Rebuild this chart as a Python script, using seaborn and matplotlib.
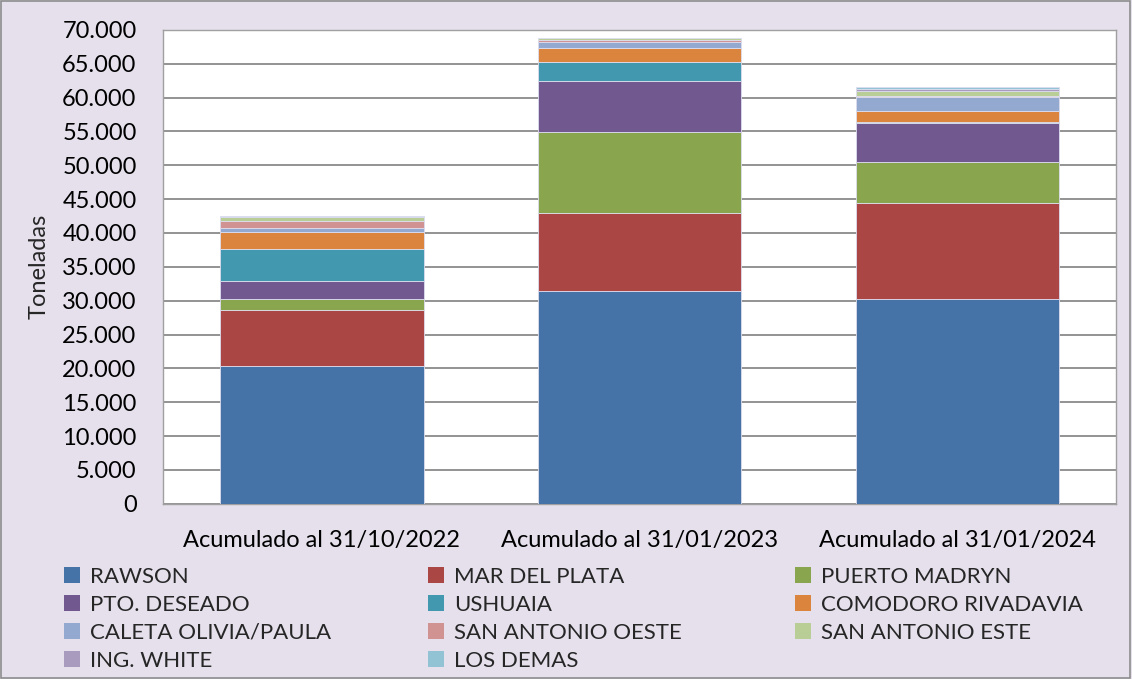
import numpy as np
import pandas as pd
import matplotlib
matplotlib.use("Agg")
import matplotlib.pyplot as plt
from matplotlib.patches import Rectangle, Patch
from matplotlib.ticker import FuncFormatter
import seaborn as sns

# data (toneladas)
periodos = ["Acumulado al 31/10/2022", "Acumulado al 31/01/2023", "Acumulado al 31/01/2024"]
puertos = ["RAWSON", "MAR DEL PLATA", "PUERTO MADRYN", "PTO. DESEADO", "USHUAIA",
           "COMODORO RIVADAVIA", "CALETA OLIVIA/PAULA", "SAN ANTONIO OESTE",
           "SAN ANTONIO ESTE", "ING. WHITE", "LOS DEMAS"]
rawson = [20300, 31500, 30200]
mar_del_plata = [8400, 11400, 14200]
puerto_madryn = [1600, 12000, 6100]
pto_deseado = [2600, 7600, 5800]
ushuaia = [4800, 2800, 50]
comodoro = [2500, 1950, 1700]
caleta = [600, 900, 2000]
san_antonio_oeste = [900, 400, 250]
san_antonio_este = [600, 200, 600]
ing_white = [100, 60, 400]
los_demas = [50, 50, 300]

colores = ["#4572A7", "#AA4643", "#89A54E", "#71588F", "#4198AF", "#DB843D",
           "#93A9CF", "#D19392", "#B9CD96", "#A99BBD", "#91C3D5"]

series = [rawson, mar_del_plata, puerto_madryn, pto_deseado, ushuaia, comodoro,
          caleta, san_antonio_oeste, san_antonio_este, ing_white, los_demas]

sns.set_theme(style="white")
plt.rcParams["font.family"] = ["Lato", "DejaVu Sans"]

fig = plt.figure(figsize=(11.32, 6.79), dpi=100)
fig.patch.set_facecolor("#E6E0EC")
fig.patches.append(Rectangle((0.001, 0.001), 0.997, 0.997, transform=fig.transFigure,
                             fill=False, edgecolor="#8C8C8C", linewidth=1.2))
ax = fig.add_axes([0.144, 0.258, 0.842, 0.698])
ax.set_facecolor("white")

bottom = np.zeros(len(periodos))
for nombre, vals, col in zip(puertos, series, colores):
    df = pd.DataFrame({"periodo": periodos, "ton": vals})
    sns.barplot(data=df, x="periodo", y="ton", color=col, bottom=bottom, width=0.64,
                edgecolor="#DDDDEE", linewidth=0.6, ax=ax, zorder=3, saturation=1)
    bottom = bottom + np.array(vals)

ax.set_ylim(0, 70000)
ax.set_yticks(np.arange(0, 70001, 5000))
ax.yaxis.set_major_formatter(FuncFormatter(lambda v, p: f"{int(v):,}".replace(",", ".")))
ax.grid(axis="y", color="#8A8A8A", linewidth=1.3, zorder=0)
ax.set_axisbelow(True)
for s in ax.spines.values():
    s.set_color("#A0A0A0")
    s.set_linewidth(1)
ax.tick_params(axis="both", labelsize=17, length=0, colors="black")
ax.tick_params(axis="y", pad=19)
ax.tick_params(axis="x", pad=19)
ax.set_xlabel("")
ax.set_ylabel("Toneladas", fontsize=17)
ax.yaxis.set_label_coords(-0.119, 0.5)

# legend: three columns placed like the original, filled row by row
handles = [Patch(facecolor=c, edgecolor="none") for c in colores]
col_x = [0.0565, 0.3785, 0.7025]
for j, x in enumerate(col_x):
    idx = list(range(j, len(puertos), 3))
    leg = fig.legend([handles[i] for i in idx], [puertos[i] for i in idx],
                     loc="upper left", bbox_to_anchor=(x, 0.165), frameon=False,
                     fontsize=16, handlelength=0.7, handleheight=0.7, handletextpad=0.45,
                     labelspacing=0.36, borderaxespad=0, borderpad=0)

fig.savefig("out.png", dpi=100, facecolor=fig.get_facecolor())
